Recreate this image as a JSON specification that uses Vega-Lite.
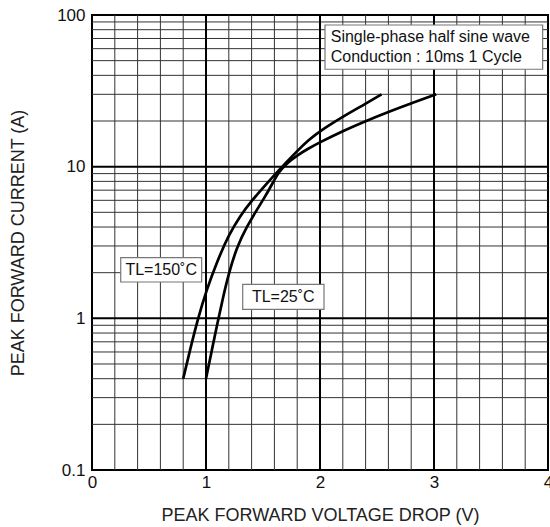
{
  "$schema": "https://vega.github.io/schema/vega-lite/v6.json",
  "width": 456,
  "height": 455,
  "autosize": {"type": "none"},
  "padding": {"left": 92, "top": 15, "right": 2, "bottom": 57},
  "background": "white",
  "config": {
    "view": {"stroke": "#000", "strokeWidth": 2},
    "font": "Liberation Sans"
  },
  "datasets": {
    "xminor": [{"V": 0.2}, {"V": 0.4}, {"V": 0.6}, {"V": 0.8}, {"V": 1.2}, {"V": 1.4}, {"V": 1.6}, {"V": 1.8}, {"V": 2.2}, {"V": 2.4}, {"V": 2.6}, {"V": 2.8}, {"V": 3.2}, {"V": 3.4}, {"V": 3.6}, {"V": 3.8}],
    "xmajor": [{"V": 1}, {"V": 2}, {"V": 3}],
    "yminor": [{"I": 0.2}, {"I": 0.3}, {"I": 0.4}, {"I": 0.5}, {"I": 0.6}, {"I": 0.7}, {"I": 0.8}, {"I": 0.9}, {"I": 2}, {"I": 3}, {"I": 4}, {"I": 5}, {"I": 6}, {"I": 7}, {"I": 8}, {"I": 9}, {"I": 20}, {"I": 30}, {"I": 40}, {"I": 50}, {"I": 60}, {"I": 70}, {"I": 80}, {"I": 90}],
    "ymajor": [{"I": 1}, {"I": 10}]
  },
  "layer": [
    {
      "data": {"name": "xminor"},
      "mark": {"type": "rule", "color": "#333", "strokeWidth": 1},
      "encoding": {
        "x": {
          "field": "V", "type": "quantitative",
          "scale": {"domain": [0, 4], "nice": false, "zero": false},
          "axis": {
            "title": "PEAK FORWARD VOLTAGE DROP (V)",
            "values": [0, 1, 2, 3, 4],
            "format": "d",
            "grid": false,
            "ticks": false,
            "tickSize": 0,
            "domain": false,
            "labelFontSize": 17,
            "labelColor": "#111",
            "labelPadding": 4,
            "labelFlush": false,
            "labelOverlap": false,
            "labelBound": false,
            "titleFontSize": 18,
            "titleFontWeight": "normal",
            "titleColor": "#222",
            "titleX": 228,
            "titleY": 50,
            "titleBaseline": "alphabetic",
            "titleAnchor": "middle"
          }
        }
      }
    },
    {
      "data": {"name": "yminor"},
      "mark": {"type": "rule", "color": "#333", "strokeWidth": 1},
      "encoding": {
        "y": {
          "field": "I", "type": "quantitative",
          "scale": {"type": "log", "domain": [0.1, 100], "nice": false},
          "axis": {
            "title": "PEAK FORWARD CURRENT (A)",
            "values": [0.1, 1, 10, 100],
            "labelExpr": "toString(datum.value)",
            "grid": false,
            "ticks": false,
            "tickSize": 0,
            "domain": false,
            "labelFontSize": 17,
            "labelColor": "#111",
            "labelPadding": 7,
            "labelFlush": false,
            "labelOverlap": false,
            "titleFontSize": 18,
            "titleFontWeight": "normal",
            "titleColor": "#222",
            "titleX": -74,
            "titleY": 227.5,
            "titleBaseline": "middle",
            "titleAnchor": "middle"
          }
        }
      }
    },
    {
      "data": {"name": "xmajor"},
      "mark": {"type": "rule", "color": "#000", "strokeWidth": 2},
      "encoding": {"x": {"field": "V", "type": "quantitative"}}
    },
    {
      "data": {"name": "ymajor"},
      "mark": {"type": "rule", "color": "#000", "strokeWidth": 2},
      "encoding": {"y": {"field": "I", "type": "quantitative"}}
    },
    {
      "data": {"values": [
        {"series": "TL=150", "V": 0.8, "I": 0.4},
        {"series": "TL=150", "V": 0.86, "I": 0.62},
        {"series": "TL=150", "V": 0.93, "I": 1.0},
        {"series": "TL=150", "V": 1.0, "I": 1.5},
        {"series": "TL=150", "V": 1.1, "I": 2.4},
        {"series": "TL=150", "V": 1.2, "I": 3.55},
        {"series": "TL=150", "V": 1.3, "I": 4.75},
        {"series": "TL=150", "V": 1.4, "I": 5.95},
        {"series": "TL=150", "V": 1.5, "I": 7.25},
        {"series": "TL=150", "V": 1.6, "I": 8.8},
        {"series": "TL=150", "V": 1.7, "I": 10.6},
        {"series": "TL=150", "V": 1.8, "I": 12.7},
        {"series": "TL=150", "V": 1.9, "I": 15.0},
        {"series": "TL=150", "V": 2.0, "I": 17.2},
        {"series": "TL=150", "V": 2.2, "I": 21.4},
        {"series": "TL=150", "V": 2.4, "I": 26.0},
        {"series": "TL=150", "V": 2.54, "I": 30},
        {"series": "TL=25", "V": 1.0, "I": 0.4},
        {"series": "TL=25", "V": 1.05, "I": 0.61},
        {"series": "TL=25", "V": 1.1, "I": 0.93},
        {"series": "TL=25", "V": 1.15, "I": 1.38},
        {"series": "TL=25", "V": 1.2, "I": 1.98},
        {"series": "TL=25", "V": 1.27, "I": 2.95},
        {"series": "TL=25", "V": 1.36, "I": 4.05},
        {"series": "TL=25", "V": 1.44, "I": 5.1},
        {"series": "TL=25", "V": 1.51, "I": 6.2},
        {"series": "TL=25", "V": 1.56, "I": 7.2},
        {"series": "TL=25", "V": 1.6, "I": 8.2},
        {"series": "TL=25", "V": 1.64, "I": 9.2},
        {"series": "TL=25", "V": 1.7, "I": 10.4},
        {"series": "TL=25", "V": 1.8, "I": 11.9},
        {"series": "TL=25", "V": 1.9, "I": 13.2},
        {"series": "TL=25", "V": 2.0, "I": 14.5},
        {"series": "TL=25", "V": 2.2, "I": 17.2},
        {"series": "TL=25", "V": 2.4, "I": 20.0},
        {"series": "TL=25", "V": 2.6, "I": 23.0},
        {"series": "TL=25", "V": 2.8, "I": 26.2},
        {"series": "TL=25", "V": 3.02, "I": 30}
      ]},
      "mark": {"type": "line", "color": "#000", "strokeWidth": 2.7, "interpolate": "basis", "clip": true},
      "encoding": {
        "x": {"field": "V", "type": "quantitative"},
        "y": {"field": "I", "type": "quantitative"},
        "detail": {"field": "series", "type": "nominal"}
      }
    },
    {
      "data": {"values": [
        {"box": "cond", "V": 2.044, "V2": 3.953, "I": 85.9, "I2": 43.9},
        {"box": "150", "V": 0.252, "V2": 0.962, "I": 2.516, "I2": 1.736},
        {"box": "25", "V": 1.322, "V2": 2.035, "I": 1.677, "I2": 1.147}
      ]},
      "mark": {"type": "rect", "fill": "white", "stroke": "#777", "strokeWidth": 1.2},
      "encoding": {
        "x": {"field": "V", "type": "quantitative"},
        "x2": {"field": "V2"},
        "y": {"field": "I", "type": "quantitative"},
        "y2": {"field": "I2"}
      }
    },
    {
      "data": {"values": [
        {"label": "Single-phase half sine wave", "V": 2.094, "I": 72},
        {"label": "Conduction : 10ms 1 Cycle", "V": 2.094, "I": 53.1}
      ]},
      "mark": {"type": "text", "align": "left", "baseline": "middle", "fontSize": 16, "color": "#111"},
      "encoding": {
        "x": {"field": "V", "type": "quantitative"},
        "y": {"field": "I", "type": "quantitative"},
        "text": {"field": "label"}
      }
    },
    {
      "data": {"values": [
        {"label": "TL=150˚C", "V": 0.607, "I": 2.09},
        {"label": "TL=25˚C", "V": 1.678, "I": 1.387}
      ]},
      "mark": {"type": "text", "align": "center", "baseline": "middle", "fontSize": 16, "color": "#111"},
      "encoding": {
        "x": {"field": "V", "type": "quantitative"},
        "y": {"field": "I", "type": "quantitative"},
        "text": {"field": "label"}
      }
    }
  ]
}
